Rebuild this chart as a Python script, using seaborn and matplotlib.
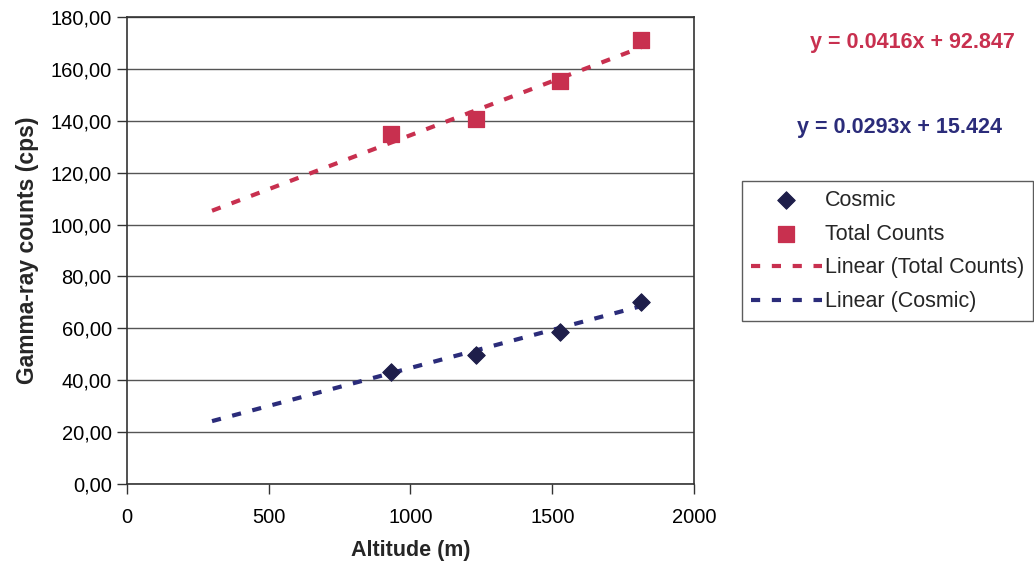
import numpy as np
import pandas as pd
import seaborn as sns
import matplotlib.pyplot as plt
from matplotlib.ticker import FuncFormatter

# altitude (m) of the four survey levels
altitude = [930, 1230, 1527, 1812]
cosmic = [43.3, 49.8, 58.7, 70.2]
total_counts = [135.0, 140.8, 155.4, 171.0]

# trend line coefficients as printed on the chart
total_slope, total_intercept = 0.0416, 92.847
cosmic_slope, cosmic_intercept = 0.0293, 15.424
trend_x = [300, 1812]

red = '#C8304F'
navy = '#2B2C7A'
diamond = '#1E1E4A'

sns.set_style('white')
plt.rcParams['font.family'] = ['Liberation Sans', 'DejaVu Sans']

fig = plt.figure(figsize=(10.34, 5.68), dpi=100)
ax = fig.add_axes([0.1228, 0.148, 0.5484, 0.822])

pts = pd.DataFrame({'Altitude': altitude, 'Cosmic': cosmic, 'Total Counts': total_counts})
tx = np.array(trend_x)
trend = pd.DataFrame({'x': tx,
                      'total': total_slope * tx + total_intercept,
                      'cosmic': cosmic_slope * tx + cosmic_intercept})

sns.lineplot(data=trend, x='x', y='total', ax=ax, color=red, lw=3,
             dashes=False, linestyle=(0, (2.2, 2.8)), label='Linear (Total Counts)', zorder=2)
sns.lineplot(data=trend, x='x', y='cosmic', ax=ax, color=navy, lw=3,
             dashes=False, linestyle=(0, (2.2, 2.8)), label='Linear (Cosmic)', zorder=2)
sns.scatterplot(data=pts, x='Altitude', y='Cosmic', ax=ax, marker='D', s=80,
                color=diamond, edgecolor=diamond, label='Cosmic', zorder=3)
sns.scatterplot(data=pts, x='Altitude', y='Total Counts', ax=ax, marker='s', s=130,
                color=red, edgecolor=red, label='Total Counts', zorder=3)

ax.set_xlim(0, 2000)
ax.set_ylim(0, 180)
ax.set_xticks(range(0, 2001, 500))
ax.set_yticks(range(0, 181, 20))
ax.yaxis.set_major_formatter(FuncFormatter(lambda v, p: f'{v:.2f}'.replace('.', ',')))
ax.grid(axis='y', color='#555555', lw=1)
ax.set_axisbelow(True)
for s in ax.spines.values():
    s.set_color('#333333')
    s.set_linewidth(1.2)
ax.tick_params(axis='both', direction='out', length=7, width=1, colors='#333333',
               labelcolor='black', labelsize=14.5, bottom=True, left=True)
ax.tick_params(axis='x', pad=10)
ax.tick_params(axis='y', pad=4)
ax.set_xlabel('Altitude (m)', fontsize=15.5, fontweight='bold', labelpad=10)
ax.set_ylabel('Gamma-ray counts (cps)', fontsize=16.5, fontweight='bold', labelpad=8)

handles, labels = ax.get_legend_handles_labels()
order = [labels.index(n) for n in ['Cosmic', 'Total Counts', 'Linear (Total Counts)', 'Linear (Cosmic)']]
leg = ax.legend([handles[i] for i in order], [labels[i] for i in order],
                loc='upper left', bbox_to_anchor=(0.7176, 0.6813), bbox_transform=fig.transFigure,
                fontsize=15.5, frameon=True, fancybox=False, edgecolor='#333333',
                handlelength=3.3, handletextpad=0.15, borderpad=0.4, labelspacing=0.6,
                borderaxespad=0)
leg.get_frame().set_linewidth(1)

fig.text(0.882, 0.925, 'y = 0.0416x + 92.847', color=red, fontsize=15.5,
         fontweight='bold', ha='center', va='center')
fig.text(0.870, 0.775, 'y = 0.0293x + 15.424', color=navy, fontsize=15.5,
         fontweight='bold', ha='center', va='center')

fig.savefig('out.png', dpi=100)
